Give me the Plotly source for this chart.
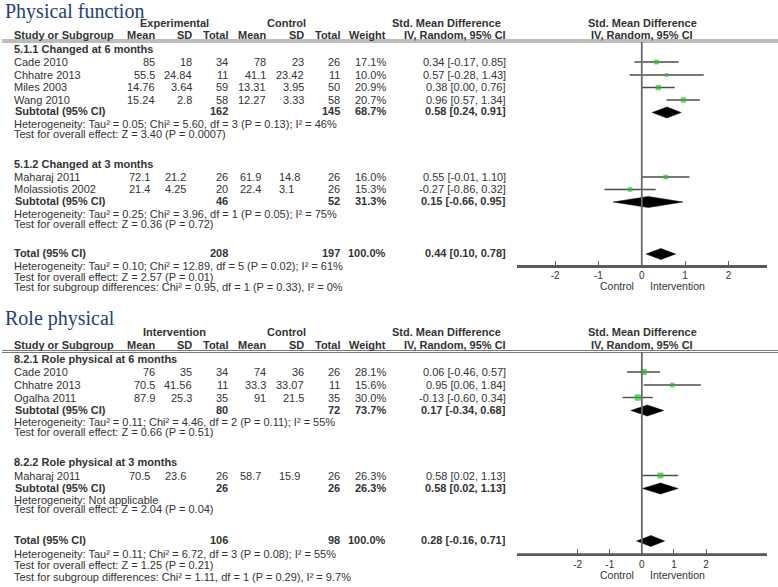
import plotly.graph_objects as go

W, H = 778, 587
FONT = "Liberation Sans, Arial, sans-serif"
TXT = "#333333"
GREEN = "#22c322"

# ---------------- Data: Physical function ----------------
pf_title = "Physical function"
pf_groups = ["5.1.1 Changed at 6 months", "5.1.2 Changed at 3 months"]
pf_study = ["Cade 2010", "Chhatre 2013", "Miles 2003", "Wang 2010", "Maharaj 2011", "Molassiotis 2002"]
pf_group_of = [0, 0, 0, 0, 1, 1]
pf_exp_mean = ["85", "55.5", "14.76", "15.24", "72.1", "21.4"]
pf_exp_sd = ["18", "24.84", "3.64", "2.8", "21.2", "4.25"]
pf_exp_n = [34, 11, 59, 58, 26, 20]
pf_ctl_mean = ["78", "41.1", "13.31", "12.27", "61.9", "22.4"]
pf_ctl_sd = ["23", "23.42", "3.95", "3.33", "14.8", "3.1"]
pf_ctl_n = [26, 11, 50, 58, 26, 26]
pf_weight = [17.1, 10.0, 20.9, 20.7, 16.0, 15.3]
pf_smd = [0.34, 0.57, 0.38, 0.96, 0.55, -0.27]
pf_lo = [-0.17, -0.28, 0.00, 0.57, -0.01, -0.86]
pf_hi = [0.85, 1.43, 0.76, 1.34, 1.10, 0.32]
pf_sub_exp_n = [162, 46]
pf_sub_ctl_n = [145, 52]
pf_sub_weight = [68.7, 31.3]
pf_sub_smd = [0.58, 0.15]
pf_sub_lo = [0.24, -0.66]
pf_sub_hi = [0.91, 0.95]
pf_sub_het = ["Heterogeneity: Tau² = 0.05; Chi² = 5.60, df = 3 (P = 0.13); I² = 46%",
              "Heterogeneity: Tau² = 0.25; Chi² = 3.96, df = 1 (P = 0.05); I² = 75%"]
pf_sub_test = ["Test for overall effect: Z = 3.40 (P = 0.0007)",
               "Test for overall effect: Z = 0.36 (P = 0.72)"]
pf_tot = dict(exp_n=208, ctl_n=197, weight=100.0, smd=0.44, lo=0.10, hi=0.78)
pf_tot_notes = ["Heterogeneity: Tau² = 0.10; Chi² = 12.89, df = 5 (P = 0.02); I² = 61%",
                "Test for overall effect: Z = 2.57 (P = 0.01)",
                "Test for subgroup differences: Chi² = 0.95, df = 1 (P = 0.33), I² = 0%"]
pf_exp_label = "Experimental"

# ---------------- Data: Role physical ----------------
rp_title = "Role physical"
rp_groups = ["8.2.1 Role physical at 6 months", "8.2.2 Role physical at 3 months"]
rp_study = ["Cade 2010", "Chhatre 2013", "Ogalha 2011", "Maharaj 2011"]
rp_group_of = [0, 0, 0, 1]
rp_exp_mean = ["76", "70.5", "87.9", "70.5"]
rp_exp_sd = ["35", "41.56", "25.3", "23.6"]
rp_exp_n = [34, 11, 35, 26]
rp_ctl_mean = ["74", "33.3", "91", "58.7"]
rp_ctl_sd = ["36", "33.07", "21.5", "15.9"]
rp_ctl_n = [26, 11, 35, 26]
rp_weight = [28.1, 15.6, 30.0, 26.3]
rp_smd = [0.06, 0.95, -0.13, 0.58]
rp_lo = [-0.46, 0.06, -0.60, 0.02]
rp_hi = [0.57, 1.84, 0.34, 1.13]
rp_sub_exp_n = [80, 26]
rp_sub_ctl_n = [72, 26]
rp_sub_weight = [73.7, 26.3]
rp_sub_smd = [0.17, 0.58]
rp_sub_lo = [-0.34, 0.02]
rp_sub_hi = [0.68, 1.13]
rp_sub_het = ["Heterogeneity: Tau² = 0.11; Chi² = 4.46, df = 2 (P = 0.11); I² = 55%",
              "Heterogeneity: Not applicable"]
rp_sub_test = ["Test for overall effect: Z = 0.66 (P = 0.51)",
               "Test for overall effect: Z = 2.04 (P = 0.04)"]
rp_tot = dict(exp_n=106, ctl_n=98, weight=100.0, smd=0.28, lo=-0.16, hi=0.71)
rp_tot_notes = ["Heterogeneity: Tau² = 0.11; Chi² = 6.72, df = 3 (P = 0.08); I² = 55%",
                "Test for overall effect: Z = 1.25 (P = 0.21)",
                "Test for subgroup differences: Chi² = 1.11, df = 1 (P = 0.29), I² = 9.7%"]
rp_exp_label = "Intervention"

tick_vals = [-2, -1, 0, 1, 2]
tick_text = ["-2", "-1", "0", "1", "2"]

# ---------------- Layout (pixel rows) ----------------
pf_rows = dict(title=11, hdr1=23, hdr2=35.5, rule=41, grp=[48.5, 163.5],
               study=[62, 75, 87.5, 100, 177, 189.5], sub=[111.5, 201],
               het=[124, 214], test=[133.5, 223.5], total=253,
               notes=[266, 276.5, 287], axis=265.7, fav=286, top=0,
               rng=[-2.88, 2.89])
rp_rows = dict(title=318, hdr1=332, hdr2=344.5, rule=351.5, grp=[358.5, 462],
               study=[372, 385, 397.5, 475.5], sub=[409.5, 487.5],
               het=[422, 499.5], test=[432, 509], total=540,
               notes=[553.5, 565, 576.5], axis=554, fav=574.5, top=300,
               rng=[-3.89, 3.9])

annotations = []
shapes = []


def px(x):
    return x / W


def py(y):
    return 1 - y / H


def txt(x, y, s, anchor="left", bold=False, size=11, color=TXT, family=FONT):
    if bold:
        s = "<b>" + s + "</b>"
    annotations.append(dict(x=px(x), y=py(y), xref="paper", yref="paper", text=s,
                            showarrow=False, xanchor=anchor, yanchor="middle",
                            font=dict(family=family, size=size, color=color)))


def ci(e, l, h):
    return f"{e:.2f} [{l:.2f}, {h:.2f}]"


fig = go.Figure()


def panel(k, R, title, exp_label, groups, study, group_of, em, es, en, cm, cs, cn, wt,
          smd, lo, hi, s_en, s_cn, s_w, s_smd, s_lo, s_hi, s_het, s_test, tot, tot_notes):
    xa = "x" if k == 1 else "x2"
    ya = "y" if k == 1 else "y2"
    txt(3, R["title"], title, size=20, color="#1f3f78", family="Liberation Serif, Times New Roman, serif")
    # headers
    txt(174, R["hdr1"], exp_label, "center", True)
    txt(286, R["hdr1"], "Control", "center", True)
    txt(503, R["hdr1"], "Std. Mean Difference", "right", True)
    txt(642, R["hdr1"], "Std. Mean Difference", "center", True)
    txt(12, R["hdr2"], "Study or Subgroup", "left", True)
    for xr, s in [(157, "Mean"), (194, "SD"), (230, "Total"), (268, "Mean"), (306, "SD"),
                  (342, "Total"), (388, "Weight")]:
        txt(xr, R["hdr2"], s, "right", True)
    txt(508, R["hdr2"], "IV, Random, 95% CI", "right", True)
    txt(642, R["hdr2"], "IV, Random, 95% CI", "center", True)
    for dy in (-1, 1):
        shapes.append(dict(type="line", xref="paper", yref="paper", x0=px(2), x1=1,
                           y0=py(R["rule"] + dy), y1=py(R["rule"] + dy),
                           line=dict(color="#7a7a7a", width=1)))
    # group headings
    for g, gname in enumerate(groups):
        txt(12, R["grp"][g], gname, "left", True)
    # study rows
    for i, name in enumerate(study):
        y = R["study"][i]
        txt(12, y, name)
        if group_of[i] == 0:
            txt(157, y, em[i], "right"); txt(194, y, es[i], "right")
            txt(268, y, cm[i], "right"); txt(306, y, cs[i], "right")
        else:
            txt(127, y, em[i], "left"); txt(163, y, es[i], "left")
            txt(238, y, cm[i], "left"); txt(277, y, cs[i], "left")
        txt(230, y, str(en[i]), "right")
        txt(342, y, str(cn[i]), "right")
        txt(388, y, f"{wt[i]:.1f}%", "right")
        txt(508, y, ci(smd[i], lo[i], hi[i]), "right")
    # subtotals
    for g in range(len(groups)):
        y = R["sub"][g]
        txt(13, y, "Subtotal (95% CI)", "left", True)
        txt(230, y, str(s_en[g]), "right", True)
        txt(342, y, str(s_cn[g]), "right", True)
        txt(388, y, f"{s_w[g]:.1f}%", "right", True)
        txt(508, y, ci(s_smd[g], s_lo[g], s_hi[g]), "right", True)
        txt(12, R["het"][g], s_het[g], size=11)
        txt(12, R["test"][g], s_test[g], size=11)
    # total
    y = R["total"]
    txt(12, y, "Total (95% CI)", "left", True)
    txt(230, y, str(tot["exp_n"]), "right", True)
    txt(342, y, str(tot["ctl_n"]), "right", True)
    txt(388, y, f"{tot['weight']:.1f}%", "right", True)
    txt(508, y, ci(tot["smd"], tot["lo"], tot["hi"]), "right", True)
    for j, note in enumerate(tot_notes):
        txt(12, R["notes"][j], note, size=11)
    txt(636, R["fav"], "Control", "right", size=10.5)
    txt(648, R["fav"], "Intervention", "left", size=10.5)

    # zero line
    shapes.append(dict(type="line", xref=xa, yref="paper", x0=0, x1=0,
                       y0=py(R["axis"]), y1=py(R["rule"] + 1),
                       line=dict(color="#6a6a6a", width=1.8)))
    # axis base line across the plot width
    shapes.append(dict(type="line", xref=xa + " domain", yref="paper", x0=0, x1=1,
                       y0=py(R["axis"]), y1=py(R["axis"]),
                       line=dict(color="#5a5a5a", width=1.5)))
    # study estimates with CIs
    ys = R["study"]
    fig.add_trace(go.Scatter(
        x=smd, y=ys, mode="markers", xaxis=xa, yaxis=ya, showlegend=False,
        marker=dict(symbol="square", color=GREEN, size=[1.15 * w ** 0.5 for w in wt],
                    line=dict(width=0)),
        error_x=dict(type="data", symmetric=False,
                     array=[h - e for e, h in zip(smd, hi)],
                     arrayminus=[e - l for e, l in zip(smd, lo)],
                     width=0, thickness=1.4, color="#4d4d4d")))
    # diamonds
    dl = list(zip(s_smd, s_lo, s_hi, R["sub"])) + [(tot["smd"], tot["lo"], tot["hi"], R["total"])]
    for e, l, h, yc in dl:
        yc = yc + 1
        fig.add_trace(go.Scatter(
            x=[l, e, h, e, l], y=[yc, yc - 5.5, yc, yc + 5.5, yc], mode="lines",
            fill="toself", fillcolor="black", line=dict(color="black", width=0.5),
            xaxis=xa, yaxis=ya, showlegend=False, hoverinfo="skip"))


panel(1, pf_rows, pf_title, pf_exp_label, pf_groups, pf_study, pf_group_of, pf_exp_mean,
      pf_exp_sd, pf_exp_n, pf_ctl_mean, pf_ctl_sd, pf_ctl_n, pf_weight, pf_smd, pf_lo, pf_hi,
      pf_sub_exp_n, pf_sub_ctl_n, pf_sub_weight, pf_sub_smd, pf_sub_lo, pf_sub_hi,
      pf_sub_het, pf_sub_test, pf_tot, pf_tot_notes)
panel(2, rp_rows, rp_title, rp_exp_label, rp_groups, rp_study, rp_group_of, rp_exp_mean,
      rp_exp_sd, rp_exp_n, rp_ctl_mean, rp_ctl_sd, rp_ctl_n, rp_weight, rp_smd, rp_lo, rp_hi,
      rp_sub_exp_n, rp_sub_ctl_n, rp_sub_weight, rp_sub_smd, rp_sub_lo, rp_sub_hi,
      rp_sub_het, rp_sub_test, rp_tot, rp_tot_notes)

xdom = [517 / W, 767 / W]
axis_common = dict(domain=xdom, showgrid=False, zeroline=False, showline=True, mirror=False,
                   linecolor="#5a5a5a", linewidth=1.5, ticks="inside", ticklen=5,
                   tickcolor="#5a5a5a", tickwidth=1.2, tickvals=tick_vals, ticktext=tick_text,
                   tickfont=dict(family=FONT, size=10, color=TXT), side="bottom",
                   fixedrange=True)
hidden_y = dict(visible=True, showticklabels=False, showline=False, showgrid=False,
                zeroline=False, ticks="", fixedrange=True)
fig.update_layout(
    width=W, height=H, margin=dict(l=0, r=0, t=0, b=0),
    paper_bgcolor="white", plot_bgcolor="rgba(0,0,0,0)", showlegend=False,
    xaxis=dict(range=pf_rows["rng"], anchor="y", **axis_common),
    xaxis2=dict(range=rp_rows["rng"], anchor="y2", **axis_common),
    yaxis=dict(domain=[py(pf_rows["axis"]), py(pf_rows["top"])],
               range=[pf_rows["axis"], pf_rows["top"]], anchor="x", **hidden_y),
    yaxis2=dict(domain=[py(rp_rows["axis"]), py(rp_rows["top"])],
                range=[rp_rows["axis"], rp_rows["top"]], anchor="x2", **hidden_y),
    annotations=annotations, shapes=shapes,
)
fig.write_html("out.html", config={"displayModeBar": False},
               post_script="document.body.style.margin='0px';")
